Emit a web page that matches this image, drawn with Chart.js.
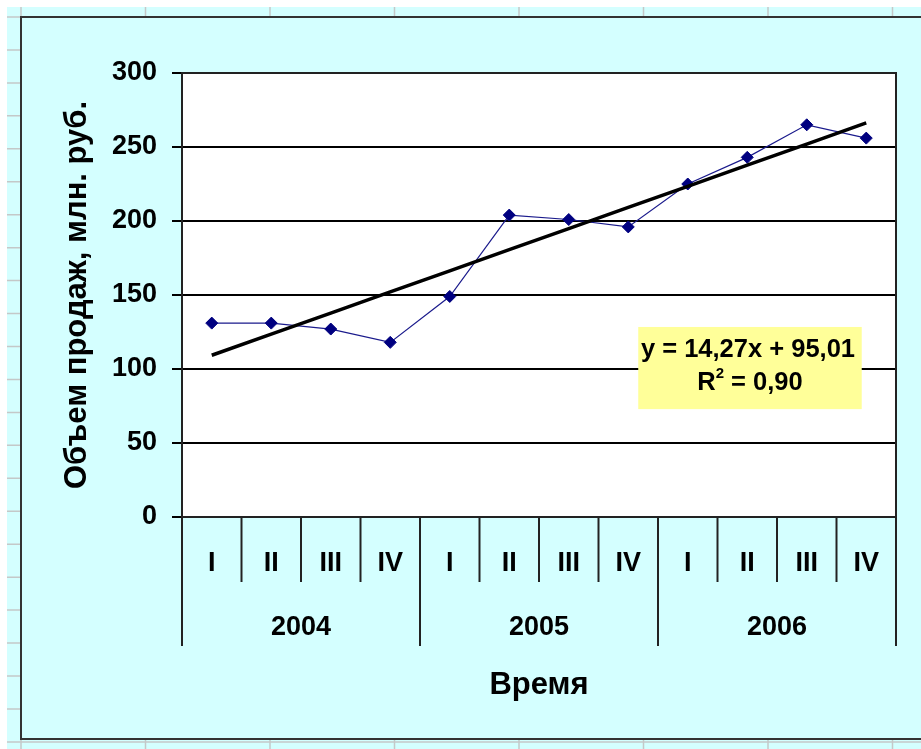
<!DOCTYPE html>
<html><head><meta charset="utf-8">
<script src="https://cdn.jsdelivr.net/npm/chart.js@4/dist/chart.umd.min.js"></script>
<style>html,body{margin:0;padding:0;background:#fff;overflow:hidden}#wrap{width:921px;height:749px;position:relative}canvas{display:block}</style>
</head><body><div id="wrap"><canvas id="c" width="921" height="749"></canvas></div>
<script>
// ---- data ----
const quarters = ['I', 'II', 'III', 'IV', 'I', 'II', 'III', 'IV', 'I', 'II', 'III', 'IV'];
const years = ['2004', '2005', '2006'];
const quartersPerYear = 4;
const sales = [131, 131, 127, 118, 149, 204, 201, 196, 225, 243, 265, 256];
const trendSlope = 14.27;
const trendIntercept = 95.01;
const rSquared = 0.90;
const yMin = 0, yMax = 300, yStep = 50;
const yTitle = 'Объем продаж, млн. руб.';
const xTitle = 'Время';

// trendline values from the equation shown on the chart
const trend = quarters.map((_, i) => trendSlope * (i + 1) + trendIntercept);
const fmt = v => v.toFixed(2).replace('.', ',');

const FONT = '"Liberation Sans", Arial, sans-serif';
const CYAN = '#d4ffff';
const DARK = '#222';
const TICK_SIZE = 27;
const TITLE_SIZE = 31;

const sheetPlugin = {
  id: 'sheet',
  beforeDraw(chart) {
    const ctx = chart.ctx, W = chart.width, H = chart.height;
    ctx.save();
    ctx.fillStyle = '#fff';
    ctx.fillRect(0, 0, W, H);
    ctx.fillStyle = CYAN;
    ctx.fillRect(7, 7, W - 7, H - 7);
    // spreadsheet cell lines
    ctx.strokeStyle = '#c4c8c8';
    ctx.lineWidth = 1.5;
    for (let k = 0; k < 8; k++) {
      const x = 21 + 124.5 * k;
      ctx.beginPath(); ctx.moveTo(x, 7); ctx.lineTo(x, H); ctx.stroke();
    }
    for (let k = 0; k < 24; k++) {
      const y = 17 + 32.95 * k;
      ctx.beginPath(); ctx.moveTo(7, y); ctx.lineTo(W, y); ctx.stroke();
    }
    // chart object
    ctx.fillStyle = CYAN;
    ctx.fillRect(21, 17, W - 21, 739 - 17);
    ctx.strokeStyle = '#333';
    ctx.lineWidth = 2;
    ctx.beginPath();
    ctx.moveTo(W + 5, 17); ctx.lineTo(21, 17); ctx.lineTo(21, 739); ctx.lineTo(W + 5, 739);
    ctx.stroke();
    // plot area
    const a = chart.chartArea;
    ctx.fillStyle = '#fff';
    ctx.fillRect(a.left, a.top, a.right - a.left, a.bottom - a.top);
    ctx.restore();
  },
  afterDraw(chart) {
    const ctx = chart.ctx, a = chart.chartArea, xs = chart.scales.x;
    ctx.save();
    // plot border
    ctx.strokeStyle = DARK;
    ctx.lineWidth = 2;
    ctx.strokeRect(a.left, a.top, a.right - a.left, a.bottom - a.top);
    // category separators
    const half = (xs.getPixelForValue(1) - xs.getPixelForValue(0)) / 2;
    for (let i = 0; i <= quarters.length; i++) {
      const px = i < quarters.length ? xs.getPixelForValue(i) - half : xs.getPixelForValue(quarters.length - 1) + half;
      const len = i % quartersPerYear === 0 ? 129 : 65;
      ctx.beginPath(); ctx.moveTo(px, a.bottom); ctx.lineTo(px, a.bottom + len); ctx.stroke();
    }
    // year labels
    ctx.fillStyle = '#000';
    ctx.font = 'bold ' + TICK_SIZE + 'px ' + FONT;
    ctx.textAlign = 'center';
    ctx.textBaseline = 'middle';
    years.forEach((y, k) => {
      const x0 = xs.getPixelForValue(k * quartersPerYear) - half;
      const x1 = xs.getPixelForValue(k * quartersPerYear + quartersPerYear - 1) + half;
      ctx.fillText(y, (x0 + x1) / 2, a.bottom + 111);
    });
    // equation box
    const w = a.right - a.left, h = a.bottom - a.top;
    const bx0 = a.left + w * 0.639, bx1 = a.left + w * 0.952;
    const by0 = a.top + h * 0.572, by1 = a.top + h * 0.757;
    ctx.fillStyle = '#ffff99';
    ctx.fillRect(bx0, by0, bx1 - bx0, by1 - by0);
    const cx = (bx0 + bx1) / 2;
    ctx.fillStyle = '#000';
    const big = 'bold 25.5px ' + FONT, small = 'bold 15px ' + FONT;
    ctx.font = big;
    ctx.fillText('y = ' + fmt(trendSlope) + 'x + ' + fmt(trendIntercept), cx - 2, by0 + 23);
    const p1 = 'R', p2 = '2', p3 = ' = ' + fmt(rSquared);
    ctx.font = big; const w1 = ctx.measureText(p1).width, w3 = ctx.measureText(p3).width;
    ctx.font = small; const w2 = ctx.measureText(p2).width;
    let sx = cx - (w1 + w2 + w3) / 2;
    const ly = by0 + 56;
    ctx.textAlign = 'left';
    ctx.font = big; ctx.fillText(p1, sx, ly); sx += w1;
    ctx.font = small; ctx.fillText(p2, sx, ly - 9); sx += w2;
    ctx.font = big; ctx.fillText(p3, sx, ly);
    ctx.restore();
  }
};

new Chart(document.getElementById('c'), {
  type: 'line',
  data: {
    labels: quarters,
    datasets: [
      {
        label: 'Тренд',
        data: trend,
        borderColor: '#000',
        borderWidth: 3.5,
        pointRadius: 0,
        tension: 0,
        order: 0
      },
      {
        label: 'Объем продаж',
        data: sales,
        borderColor: '#1a1a8c',
        borderWidth: 1.2,
        pointStyle: 'rectRot',
        pointRadius: 6,
        pointBackgroundColor: '#000080',
        pointBorderColor: '#000080',
        pointBorderWidth: 1,
        tension: 0,
        order: 1
      }
    ]
  },
  options: {
    responsive: false,
    animation: false,
    devicePixelRatio: 1,
    layout: { padding: { top: 73, right: 25, left: 0, bottom: 0 } },
    plugins: { legend: { display: false }, tooltip: { enabled: false } },
    scales: {
      x: {
        type: 'category',
        offset: true,
        grid: { display: false, drawTicks: false },
        border: { display: false },
        ticks: { color: '#000', font: { family: FONT, size: TICK_SIZE, weight: 'bold' }, padding: 30, autoSkip: false, maxRotation: 0 },
        title: { display: true, text: xTitle, color: '#000', font: { family: FONT, size: TITLE_SIZE, weight: 'bold' }, padding: { top: 0, bottom: 45 } },
        afterFit(s) { s.height = 232; }
      },
      y: {
        min: yMin, max: yMax,
        ticks: { stepSize: yStep, color: '#000', font: { family: FONT, size: TICK_SIZE, weight: 'bold' }, padding: 15 },
        grid: { color: '#000', lineWidth: 2, tickLength: 10, drawTicks: true },
        border: { display: true, color: DARK, width: 2 },
        title: { display: true, text: yTitle, color: '#000', font: { family: FONT, size: TITLE_SIZE, weight: 'bold' }, padding: { top: 59, bottom: 0 } },
        afterFit(s) { s.width = 182; }
      }
    }
  },
  plugins: [sheetPlugin]
});
</script>
</body></html>
